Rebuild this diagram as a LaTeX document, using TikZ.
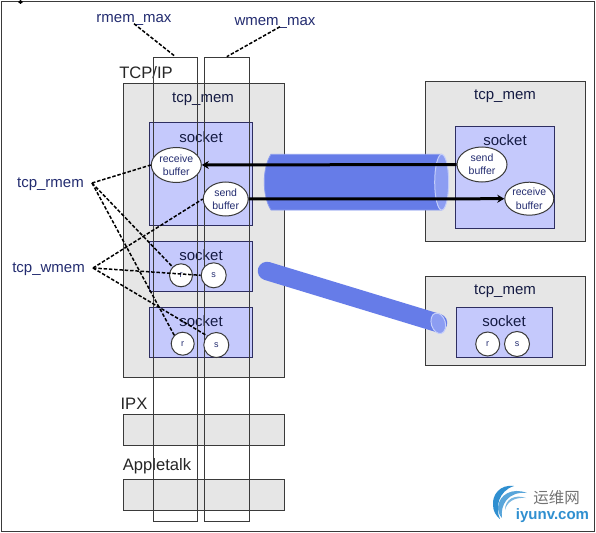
\documentclass[tikz,border=0pt]{standalone}
\usepackage{fontspec}
\setmainfont{Liberation Sans}
\newfontfamily\cjkfont{Noto Sans CJK SC}
\usetikzlibrary{positioning, arrows.meta, shapes.geometric}
\definecolor{frameline}{HTML}{3A3A3A}
\definecolor{panelgrey}{HTML}{E6E6E6}
\definecolor{socketblue}{HTML}{C5C9FC}
\definecolor{tubeblue}{HTML}{667CE8}
\definecolor{tubeend}{HTML}{8C9DF2}
\definecolor{tubeedge}{HTML}{C4CEFA}
\definecolor{navytext}{HTML}{232C70}
\definecolor{logoblue}{HTML}{2F8FD0}
\begin{document}
\begin{tikzpicture}[
        x=1pt, y=-1pt,
        panel/.style={rectangle, draw=frameline, fill=panelgrey, line width=1pt, anchor=north west, inner sep=0pt},
        socketbox/.style={rectangle, draw=frameline!80!blue, fill=socketblue, line width=1pt, anchor=north west, inner sep=0pt},
        memcol/.style={rectangle, draw=frameline, line width=1pt, anchor=north west, inner sep=0pt, minimum width=44.6pt, minimum height=464.3pt},
        buffer/.style={ellipse, draw=frameline, fill=white, line width=1pt, inner sep=0pt, align=center, text=navytext, font=\fontsize{10.5}{13.4}\selectfont},
        rsmark/.style={circle, draw=frameline, fill=white, line width=1pt, inner sep=0pt, text=navytext, font=\fontsize{9}{10}\selectfont},
        title/.style={inner sep=0pt, text depth=0pt, text=navytext!60!black, font=\fontsize{15}{18}\selectfont},
        proto/.style={inner sep=0pt, text=black!85, font=\fontsize{16.6}{20}\selectfont},
        param/.style={inner sep=1.5pt, text depth=0pt, text=navytext, font=\fontsize{15}{18}\selectfont},
        pipe/.style={-{Stealth[length=7pt, width=8pt]}, line width=3pt, black},
        hint/.style={dash pattern=on 3.5pt off 1.8pt, line width=1.5pt, black}
    ]
        \useasboundingbox (0,0) rectangle (596,532);
        \node[rectangle, draw=frameline, line width=1pt, fill=white, anchor=north west, inner sep=0pt, minimum width=593pt, minimum height=530pt] (frame) at (1,1) {};
        \fill[black] (20.5,0) -- (23,2) -- (20.5,4) -- (18,2) -- cycle;

        \node[panel, minimum width=161.3pt, minimum height=294pt] (tcpip) at (122.7,82.7) {};
        \node[panel, minimum width=161.3pt, minimum height=31pt] (ipx) at (122.7,414.3) {};
        \node[panel, minimum width=160.7pt, minimum height=31pt] (apple) at (123.3,479.3) {};
        \node[panel, minimum width=160.3pt, minimum height=160.3pt] (hosta) at (425,80.7) {};
        \node[panel, minimum width=160.3pt, minimum height=89pt] (hostb) at (425,276) {};

        \node[socketbox, minimum width=103.3pt, minimum height=103.3pt] (sockone) at (149,121.7) {};
        \node[socketbox, minimum width=103.3pt, minimum height=50.3pt] (socktwo) at (149,240.7) {};
        \node[socketbox, minimum width=103.3pt, minimum height=50pt] (sockthree) at (149,307) {};
        \node[socketbox, minimum width=99pt, minimum height=102pt] (sockfour) at (455,125.7) {};
        \node[socketbox, minimum width=96.3pt, minimum height=50pt] (sockfive) at (456,307) {};

        \node[proto] (tcpiplabel) at (146,72.5) {TCP/IP};
        \node[proto] (ipxlabel) at (134,404) {IPX};
        \node[proto] (applelabel) at (157,466.7) {Appletalk};
        \node[title] (memone) at (203,98) {tcp\_mem};
        \node[title] (memtwo) at (505,95) {tcp\_mem};
        \node[title] (memthree) at (505,290) {tcp\_mem};
        \node[title] (sockonelabel) at (201,137) {socket};
        \node[title] (socktwolabel) at (201,255) {socket};
        \node[title] (sockthreelabel) at (201,321) {socket};
        \node[title] (sockfourlabel) at (505,140) {socket};
        \node[title] (sockfivelabel) at (504,321) {socket};

        \node[memcol] (rmemcol) at (152.7,56.7) {};
        \node[memcol] (wmemcol) at (204,56.7) {};

        \path[fill=tubeblue, draw=tubeblue!75!white, line width=0.8pt] (441.7,154.3) -- (271,154.3) .. controls (262,168) and (262,196) .. (271,210) -- (441.7,210) -- cycle;
        \draw[tubeedge, line width=1pt, fill=tubeend] (441.7,182.2) ellipse (7pt and 27.9pt);
        \draw[tubeblue, line width=18.5pt, line cap=round] (267,271) -- (438,323);
        \draw[tubeedge, line width=1pt, fill=tubeend, rotate around={17:(438.3,323.3)}] (438.3,323.3) ellipse (7pt and 10.5pt);

        \node[buffer, minimum width=50pt, minimum height=35pt] (recvleft) at (176.3,165) {receive\\buffer};
        \node[buffer, minimum width=45pt, minimum height=34pt] (sendleft) at (225.7,199) {send\\buffer};
        \node[buffer, minimum width=50pt, minimum height=35pt] (sendright) at (482,164.5) {send\\buffer};
        \node[buffer, minimum width=49pt, minimum height=33pt] (recvright) at (529.3,198.7) {receive\\buffer};
        \node[rsmark, minimum size=23pt] (rtwo) at (181,275.3) {r};
        \node[rsmark, minimum size=25pt] (stwo) at (213.7,275.3) {s};
        \node[rsmark, minimum size=23pt] (rthree) at (182.7,343.7) {r};
        \node[rsmark, minimum size=25pt] (sthree) at (216.3,345) {s};
        \node[rsmark, minimum size=24pt] (rfour) at (487.7,344) {r};
        \node[rsmark, minimum size=25pt] (sfour) at (517,344) {s};

        \draw[pipe] (sendright) -- (recvleft);
        \draw[pipe] (sendleft) -- (recvright);

        \node[param] (rmemmax) at (134,18) {rmem\_max};
        \node[param] (wmemmax) at (275,21) {wmem\_max};
        \node[param, anchor=east, inner xsep=8pt] (tcprmem) at (92,183) {tcp\_rmem};
        \node[param, anchor=east, inner xsep=8pt] (tcpwmem) at (93,268) {tcp\_wmem};

        \draw[hint] (rmemmax.south) -- (rmemcol.north);
        \draw[hint] ([xshift=5pt]wmemmax.south) -- (wmemcol.north);
        \draw[hint] (tcprmem.east) -- (recvleft.west);
        \draw[hint] (tcprmem.east) -- (rtwo.north west);
        \draw[hint] (tcprmem.east) -- (rthree.north west);
        \draw[hint] (tcpwmem.east) -- (sendleft.west);
        \draw[hint] (tcpwmem.east) -- (stwo.west);
        \draw[hint] (tcpwmem.east) -- (sthree.north west);

        \fill[logoblue] (514,486) .. controls (500,484) and (492,495) .. (493,505) .. controls (493,511) and (496,516) .. (500,519) .. controls (495,508) and (498,491) .. (514,486);
        \fill[logoblue!80!white] (527,493) .. controls (512,487) and (499,495) .. (498,507) .. controls (498,511) and (499,515) .. (502,518) .. controls (500,505) and (508,491) .. (527,493);
        \fill[logoblue!65!white] (526,498) .. controls (515,494) and (505,499) .. (505,510) .. controls (507,502) and (514,497) .. (526,498);
        \node[inner sep=0pt, text=black!55, font=\cjkfont\fontsize{15.5}{17}\selectfont] (logocn) at (556.5,498) {运维网};
        \node[inner sep=0pt, text=logoblue, font=\bfseries\fontsize{15}{17}\selectfont] (logoen) at (552.5,516) {iyunv.com};
    \end{tikzpicture}
\end{document}
